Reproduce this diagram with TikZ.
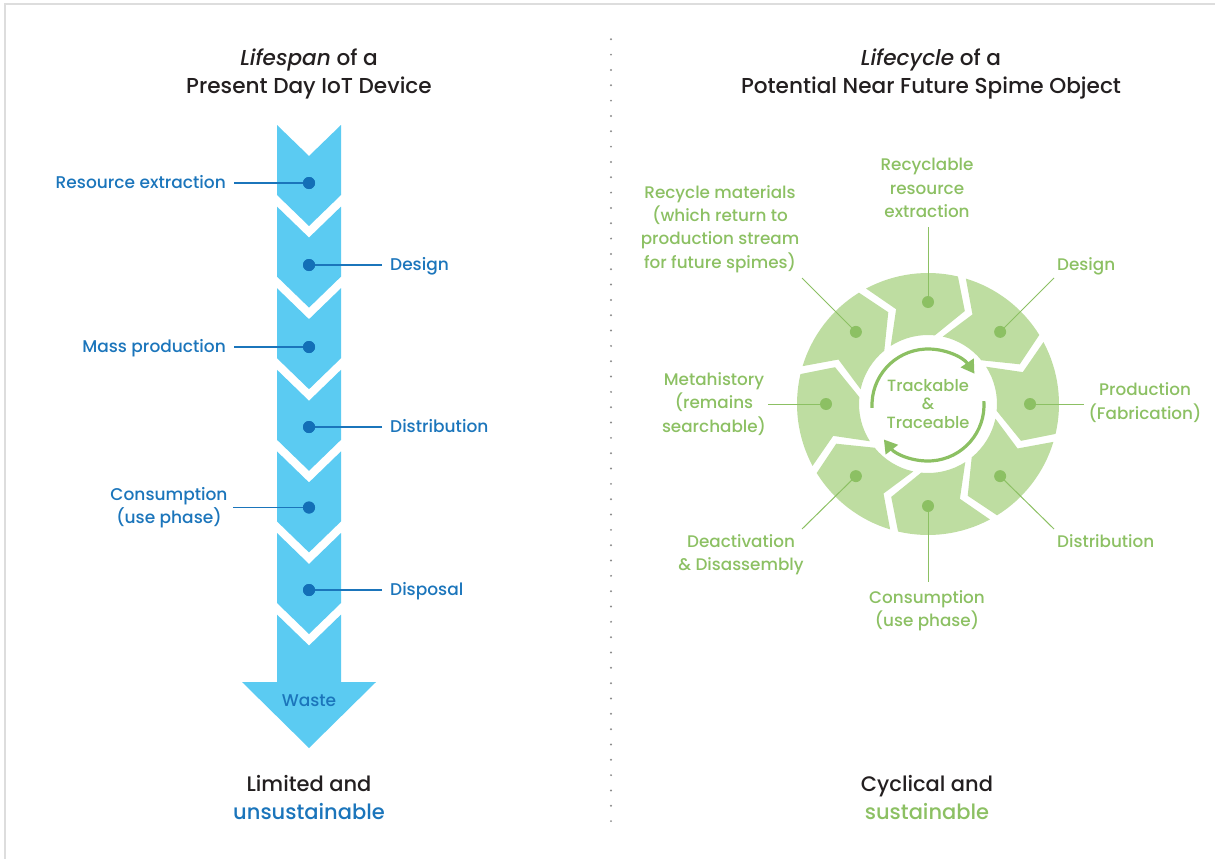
\documentclass[tikz,border=0pt]{standalone}
\usepackage{fontspec}
\setmainfont{Poppins}[UprightFont={* Medium}, ItalicFont={* Medium Italic}]
\usetikzlibrary{arrows.meta}
\definecolor{arrowblue}{HTML}{5BCBF2}
\definecolor{dotblue}{HTML}{136FB7}
\definecolor{txtblue}{HTML}{1B75BB}
\definecolor{ringgreen}{HTML}{BEDDA1}
\definecolor{dkgreen}{HTML}{8CC063}
\definecolor{txtblack}{HTML}{231F20}
\definecolor{framegray}{HTML}{DDDDDD}
\definecolor{dotgray}{HTML}{8C8C8C}
\begin{document}
\begin{tikzpicture}[x=1pt,y=-1pt,
  title/.style={font=\fontsize{21.6}{28}\selectfont, text=txtblack, align=center, inner sep=0pt},
  btitle/.style={font=\fontsize{21}{28}\selectfont, text=txtblack, align=center, inner sep=0pt},
  blbl/.style={font=\fontsize{17}{23}\selectfont, text=txtblue, align=center, inner sep=0pt},
  bone/.style={blbl, text height=11.5pt, text depth=0pt},
  glbl/.style={font=\fontsize{16.8}{23.3}\selectfont, text=dkgreen, align=center, inner sep=0pt},
  gone/.style={glbl, text height=11.5pt, text depth=0pt},
  bdot/.style={circle, fill=dotblue, inner sep=0pt, minimum size=12pt},
  gdot/.style={circle, fill=dkgreen, inner sep=0pt, minimum size=12pt},
  bline/.style={draw=txtblue, line width=1.1pt},
  gline/.style={draw=dkgreen, line width=1pt},
  garrow/.style={draw=dkgreen, line width=3.2pt, -{Triangle[length=13pt,width=15pt]}}]
\useasboundingbox (0,0) rectangle (1215,859);
% frame (top and left edges)
\draw[framegray, line width=2pt] (5,859) -- (5,4.5) -- (1215,4.5);
% dotted divider
\foreach \i in {0,...,51} \fill[dotgray] (611,{39.3+15.33*\i}) circle (1.1pt);

% ---------- left: lifespan arrow ----------
\node[title] (tleft) at (309,74) {\textit{Lifespan} of a\\Present Day IoT Device};
\foreach \i in {0,...,5} {
  \pgfmathsetmacro\tp{125+81.6*\i}
  \fill[arrowblue] (277,\tp) -- (309,{\tp+31}) -- (341,\tp) -- (341,{\tp+70})
     -- (309,{\tp+101}) -- (277,{\tp+70}) -- cycle;
}
\fill[arrowblue] (277,614.6) -- (309,645.6) -- (341,614.6) -- (341,682) -- (376,682)
   -- (309,748) -- (242,682) -- (277,682) -- cycle;
\node[bone] (waste) at (309,701) {Waste};

\node[bdot] (b1) at (309,183) {};
\node[bdot] (b2) at (309,265) {};
\node[bdot] (b3) at (309,347) {};
\node[bdot] (b4) at (309,427) {};
\node[bdot] (b5) at (309,507.5) {};
\node[bdot] (b6) at (309,590) {};

\node[bone, anchor=east] (l1) at (226,183) {Resource extraction};
\node[bone, anchor=west] (l2) at (390,265) {Design};
\node[bone, anchor=east] (l3) at (226,347) {Mass production};
\node[bone, anchor=west] (l4) at (390,427) {Distribution};
\node[blbl] (l5) at (169,507.5) {Consumption\\(use phase)};
\node[bone, anchor=west] (l6) at (390,590) {Disposal};

\draw[bline, shorten <=8pt] (l1.east) -- (b1.center);
\draw[bline, shorten <=8pt] (l2.west) -- (b2.center);
\draw[bline, shorten <=8pt] (l3.east) -- (b3.center);
\draw[bline, shorten <=8pt] (l4.west) -- (b4.center);
\draw[bline] (233,507.5) coordinate (c5) -- (b5.center);
\draw[bline, shorten <=8pt] (l6.west) -- (b6.center);
\node[bdot] at (b1) {};\node[bdot] at (b2) {};\node[bdot] at (b3) {};
\node[bdot] at (b4) {};\node[bdot] at (b5) {};\node[bdot] at (b6) {};

\node[btitle] (bleft) at (309,797) {Limited and\\\textcolor{txtblue}{unsustainable}};

% ---------- right: lifecycle ring ----------
\node[title] (tright) at (931,74) {\textit{Lifecycle} of a\\Potential Near Future Spime Object};
\begin{scope}[shift={(928,404)}, yscale=-1]
  \foreach \t in {90,45,...,-225} {
    \fill[ringgreen] ({\t+28.2}:131) arc[start angle={\t+28.2}, end angle={\t-13.2}, radius=131]
      -- ({\t-21.6}:100) -- ({\t-5.7}:69)
      arc[start angle={\t-5.7}, end angle={\t+32.7}, radius=69]
      -- ({\t+18.6}:100) -- cycle;
  }
  \node[gdot] (gtop) at (90:102) {};
  \node[gdot] (gdes) at (45:102) {};
  \node[gdot] (gpro) at (0:102) {};
  \node[gdot] (gdis) at (-45:102) {};
  \node[gdot] (gcon) at (-90:102) {};
  \node[gdot] (gdea) at (-135:102) {};
  \node[gdot] (gmet) at (180:102) {};
  \node[gdot] (grec) at (135:102) {};
\end{scope}
\begin{scope}[shift={(928,405)}, yscale=-1]
  \draw[garrow] (183:56) arc[start angle=183, end angle=34, radius=56];
  \draw[garrow] (4:56) arc[start angle=4, end angle=-142, radius=56];
\end{scope}
\node[glbl, font=\fontsize{16.3}{18.5}\selectfont] (track) at (928,404) {Trackable\\\&\\Traceable};

\coordinate (etop) at (928,227);
\coordinate (edes) at (1054,278);
\coordinate (epro) at (1084,404);
\coordinate (edis) at (1054,529);
\coordinate (econ) at (928,582);
\coordinate (edea) at (802,529);
\coordinate (emet) at (768,404);
\coordinate (erec) at (802,278);
\draw[gline] (gtop.center) -- (etop);
\draw[gline] (gdes.center) -- (edes);
\draw[gline] (gpro.center) -- (epro);
\draw[gline] (gdis.center) -- (edis);
\draw[gline] (gcon.center) -- (econ);
\draw[gline] (gdea.center) -- (edea);
\draw[gline] (gmet.center) -- (emet);
\draw[gline] (grec.center) -- (erec);

\node[glbl] (ntop) at (927,188) {Recyclable\\resource\\extraction};
\node[gone, anchor=west] (ndes) at (1057,265) {Design};
\node[glbl] (npro) at (1145,402.5) {Production\\(Fabrication)};
\node[gone, anchor=west] (ndis) at (1057,542) {Distribution};
\node[glbl] (ncon) at (927,610.5) {Consumption\\(use phase)};
\node[glbl] (ndea) at (741,554.5) {Deactivation\\\& Disassembly};
\node[glbl] (nmet) at (714,404) {Metahistory\\(remains\\searchable)};
\node[glbl] (nrec) at (720,229) {Recycle materials\\(which return to\\production stream\\for future spimes)};

\node[btitle] (bright) at (927,797) {Cyclical and\\\textcolor{dkgreen}{sustainable}};
\end{tikzpicture}
\end{document}
